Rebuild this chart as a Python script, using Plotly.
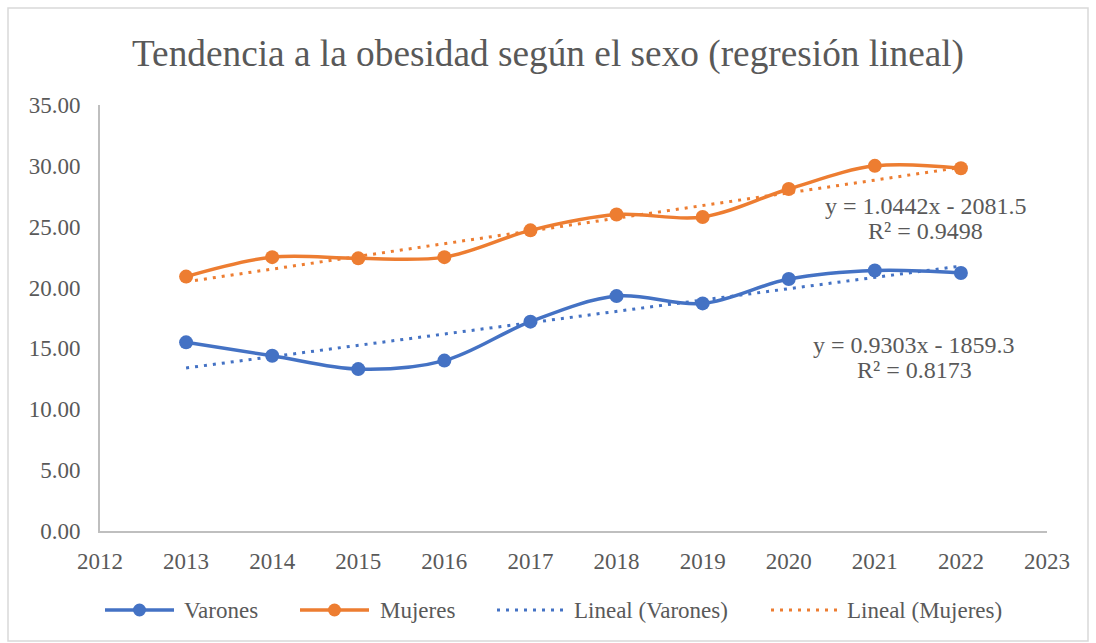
import plotly.graph_objects as go

# Survey years and obesity prevalence (%) by sex
years = [2013, 2014, 2015, 2016, 2017, 2018, 2019, 2020, 2021, 2022]
varones = [15.5, 14.4, 13.3, 14.0, 17.2, 19.3, 18.7, 20.7, 21.4, 21.2]
mujeres = [20.9, 22.5, 22.4, 22.5, 24.7, 26.0, 25.8, 28.1, 30.0, 29.8]

# Linear trend coefficients (slope, intercept) and R² as reported
trend_varones = (0.9303, -1859.3, 0.8173)
trend_mujeres = (1.0442, -2081.5, 0.9498)

BLUE = "#4472C4"
ORANGE = "#ED7D31"
GREY_TEXT = "#595959"
FONT = "Liberation Serif"

# plot-area pixel geometry (figure 1096 x 643)
L, R, T, B = 100, 49, 105, 112
PW, PH = 1096 - L - R, 643 - T - B


def px_x(px):
    return (px - L) / PW


def px_y(py):
    return (643 - B - py) / PH


def trend_values(coef, xs):
    m, b, _ = coef
    return [m * x + b for x in xs]


def equation(coef):
    m, b, r2 = coef
    sign = "-" if b < 0 else "+"
    return f"y = {m:.4f}x {sign} {abs(b):.1f}", f"R² = {r2:.4f}"


fig = go.Figure()

fig.add_trace(go.Scatter(
    x=years, y=varones, name="Varones", mode="lines+markers",
    line=dict(color=BLUE, width=3.5, shape="spline"),
    marker=dict(color=BLUE, size=14),
))
fig.add_trace(go.Scatter(
    x=years, y=mujeres, name="Mujeres", mode="lines+markers",
    line=dict(color=ORANGE, width=3.5, shape="spline"),
    marker=dict(color=ORANGE, size=14),
))
fig.add_trace(go.Scatter(
    x=years, y=trend_values(trend_varones, years), name="Lineal (Varones)",
    mode="lines", line=dict(color=BLUE, width=3, dash="3px,6px"),
))
fig.add_trace(go.Scatter(
    x=years, y=trend_values(trend_mujeres, years), name="Lineal (Mujeres)",
    mode="lines", line=dict(color=ORANGE, width=3, dash="3px,6px"),
))

# Trend equations next to each series
eq_m, r2_m = equation(trend_mujeres)
eq_v, r2_v = equation(trend_varones)
labels = [
    (eq_m, 2021.59, 26.72),
    (r2_m, 2021.59, 24.62),
    (eq_v, 2021.46, 15.30),
    (r2_v, 2021.46, 13.23),
]
annotations = [
    dict(text=t, x=x, y=y, xref="x", yref="y", showarrow=False,
         font=dict(family=FONT, size=24, color=GREY_TEXT))
    for t, x, y in labels
]

# Legend row along the bottom: (label, colour, marker?, dotted?, line start px, text px)
legend_items = [
    ("Varones", BLUE, True, False, 105, 182),
    ("Mujeres", ORANGE, True, False, 300, 378),
    ("Lineal (Varones)", BLUE, False, True, 497, 572),
    ("Lineal (Mujeres)", ORANGE, False, True, 771, 845),
]
LEG_Y = 610
shapes = [dict(
    type="rect", xref="paper", yref="paper",
    x0=px_x(8), x1=px_x(1088), y0=px_y(641), y1=px_y(8),
    line=dict(color="#D9D9D9", width=1.5), fillcolor="rgba(0,0,0,0)",
    layer="below",
)]
for label, color, has_marker, dotted, x0, xt in legend_items:
    x1 = x0 + 69
    shapes.append(dict(
        type="line", xref="paper", yref="paper",
        x0=px_x(x0), x1=px_x(x1), y0=px_y(LEG_Y), y1=px_y(LEG_Y),
        line=dict(color=color, width=3 if dotted else 3.5,
                  dash="3px,6px" if dotted else "solid"),
    ))
    if has_marker:
        cx = (x0 + x1) / 2
        shapes.append(dict(
            type="circle", xref="paper", yref="paper",
            xsizemode="pixel", ysizemode="pixel",
            xanchor=px_x(cx), yanchor=px_y(LEG_Y),
            x0=-6.5, x1=6.5, y0=-6.5, y1=6.5,
            line=dict(color=color, width=0), fillcolor=color,
        ))
    annotations.append(dict(
        text=label, xref="paper", yref="paper", x=px_x(xt), y=px_y(LEG_Y),
        xanchor="left", yanchor="middle", showarrow=False,
        font=dict(family=FONT, size=23, color=GREY_TEXT),
    ))

fig.update_layout(
    width=1096, height=643,
    margin=dict(l=L, r=R, t=T, b=B),
    paper_bgcolor="white", plot_bgcolor="white",
    font=dict(family=FONT, size=23, color=GREY_TEXT),
    showlegend=False,
    title=dict(
        text="Tendencia a la obesidad según el sexo (regresión lineal)",
        x=0.5, xanchor="center", y=0.918, yanchor="middle",
        font=dict(family=FONT, size=37.3, color=GREY_TEXT),
    ),
    xaxis=dict(
        range=[2012, 2023], dtick=1, tick0=2012, showgrid=False, zeroline=False,
        showline=True, linecolor="#BFBFBF", linewidth=2, ticks="",
        tickfont=dict(family=FONT, size=23, color=GREY_TEXT),
        ticklabelstandoff=8,
    ),
    yaxis=dict(
        range=[0, 35], dtick=5, tick0=0, tickformat=".2f", showgrid=False,
        zeroline=False, showline=True, linecolor="#BFBFBF", linewidth=2,
        ticks="", tickfont=dict(family=FONT, size=23, color=GREY_TEXT),
        ticklabelstandoff=13,
    ),
    annotations=annotations,
    shapes=shapes,
)

fig.write_html("out.html")
